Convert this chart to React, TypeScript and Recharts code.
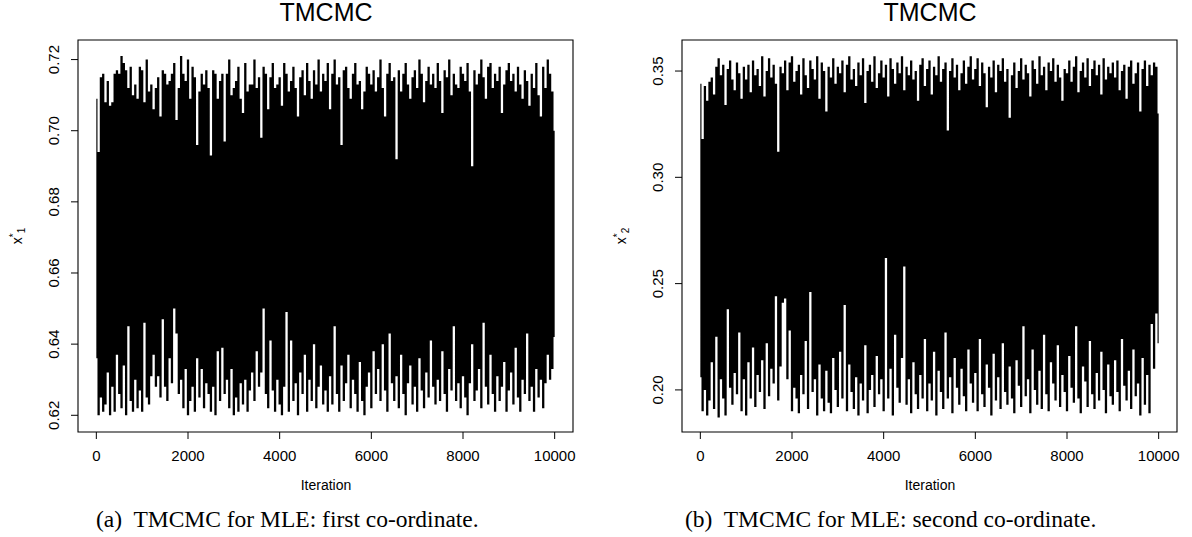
import React from 'react';
import { ComposedChart, Area, XAxis, YAxis, ReferenceArea } from 'recharts';

// trace summarised in bins of 50 iterations: max and min of each bin
const iterations = Array.from({ length: 201 }, (_, i) => i * 50);
const xTicks = [0, 2000, 4000, 6000, 8000, 10000];

const x1High = [
  0.709, 0.694, 0.715, 0.716, 0.708, 0.714, 0.707, 0.708, 0.716, 0.717, 0.716, 0.721, 0.719, 0.717, 0.712, 0.718, 0.710, 0.713, 0.709, 0.718,
  0.717, 0.708, 0.720, 0.711, 0.713, 0.706, 0.712, 0.715, 0.704, 0.717, 0.716, 0.713, 0.714, 0.716, 0.719, 0.703, 0.712, 0.721, 0.716, 0.714,
  0.720, 0.709, 0.718, 0.715, 0.696, 0.711, 0.716, 0.713, 0.717, 0.712, 0.693, 0.717, 0.716, 0.709, 0.714, 0.716, 0.697, 0.716, 0.720, 0.710,
  0.712, 0.714, 0.718, 0.709, 0.705, 0.719, 0.711, 0.713, 0.713, 0.720, 0.712, 0.715, 0.698, 0.718, 0.716, 0.706, 0.715, 0.719, 0.712, 0.713,
  0.715, 0.707, 0.719, 0.716, 0.711, 0.714, 0.718, 0.712, 0.704, 0.715, 0.717, 0.710, 0.719, 0.714, 0.709, 0.717, 0.713, 0.720, 0.711, 0.716,
  0.714, 0.719, 0.706, 0.716, 0.720, 0.713, 0.715, 0.696, 0.717, 0.718, 0.712, 0.709, 0.716, 0.719, 0.713, 0.714, 0.706, 0.711, 0.718, 0.716,
  0.713, 0.717, 0.711, 0.715, 0.720, 0.712, 0.704, 0.716, 0.719, 0.714, 0.715, 0.692, 0.717, 0.711, 0.716, 0.719, 0.713, 0.709, 0.715, 0.717,
  0.712, 0.720, 0.716, 0.708, 0.714, 0.718, 0.713, 0.716, 0.712, 0.719, 0.714, 0.705, 0.717, 0.715, 0.720, 0.710, 0.716, 0.713, 0.712, 0.718,
  0.716, 0.714, 0.719, 0.711, 0.690, 0.717, 0.713, 0.716, 0.720, 0.715, 0.709, 0.718, 0.719, 0.712, 0.716, 0.714, 0.718, 0.705, 0.713, 0.717,
  0.719, 0.714, 0.716, 0.711, 0.718, 0.713, 0.709, 0.717, 0.714, 0.707, 0.716, 0.712, 0.719, 0.710, 0.704, 0.718, 0.712, 0.720, 0.716, 0.711,
  0.700,
];

const x1Low = [
  0.636, 0.620, 0.625, 0.621, 0.623, 0.632, 0.620, 0.628, 0.621, 0.637, 0.626, 0.622, 0.634, 0.620, 0.645, 0.624, 0.621, 0.630, 0.622, 0.627,
  0.621, 0.646, 0.625, 0.623, 0.631, 0.637, 0.628, 0.631, 0.625, 0.647, 0.628, 0.624, 0.636, 0.629, 0.650, 0.643, 0.626, 0.630, 0.622, 0.633,
  0.620, 0.624, 0.628, 0.621, 0.636, 0.625, 0.633, 0.622, 0.629, 0.626, 0.621, 0.628, 0.620, 0.638, 0.624, 0.639, 0.626, 0.630, 0.622, 0.633,
  0.620, 0.625, 0.621, 0.629, 0.623, 0.630, 0.621, 0.627, 0.632, 0.624, 0.638, 0.628, 0.632, 0.650, 0.626, 0.622, 0.641, 0.627, 0.621, 0.630,
  0.623, 0.620, 0.628, 0.649, 0.621, 0.641, 0.624, 0.629, 0.620, 0.632, 0.626, 0.637, 0.621, 0.630, 0.624, 0.640, 0.622, 0.628, 0.634, 0.623,
  0.627, 0.621, 0.631, 0.623, 0.645, 0.626, 0.621, 0.634, 0.624, 0.629, 0.637, 0.622, 0.630, 0.626, 0.621, 0.635, 0.624, 0.620, 0.628, 0.632,
  0.622, 0.638, 0.626, 0.633, 0.624, 0.640, 0.627, 0.621, 0.643, 0.629, 0.624, 0.631, 0.622, 0.637, 0.626, 0.620, 0.629, 0.634, 0.623, 0.628,
  0.621, 0.636, 0.627, 0.622, 0.632, 0.625, 0.641, 0.628, 0.623, 0.630, 0.624, 0.638, 0.626, 0.621, 0.633, 0.627, 0.645, 0.624, 0.629, 0.622,
  0.631, 0.625, 0.620, 0.629, 0.640, 0.624, 0.627, 0.633, 0.622, 0.646, 0.628, 0.623, 0.637, 0.626, 0.621, 0.631, 0.624, 0.628, 0.635, 0.621,
  0.627, 0.632, 0.623, 0.639, 0.625, 0.621, 0.630, 0.626, 0.643, 0.624, 0.628, 0.621, 0.633, 0.625, 0.630, 0.622, 0.629, 0.637, 0.630, 0.633,
  0.642,
];

const x2High = [
  0.344, 0.318, 0.343, 0.336, 0.345, 0.347, 0.339, 0.352, 0.356, 0.348, 0.353, 0.334, 0.351, 0.355, 0.346, 0.341, 0.354, 0.349, 0.337, 0.352,
  0.346, 0.353, 0.340, 0.355, 0.348, 0.351, 0.343, 0.357, 0.338, 0.350, 0.356, 0.347, 0.353, 0.344, 0.312, 0.352, 0.349, 0.355, 0.341, 0.354,
  0.357, 0.345, 0.350, 0.353, 0.339, 0.356, 0.348, 0.342, 0.355, 0.351, 0.346, 0.357, 0.337, 0.354, 0.350, 0.331, 0.352, 0.347, 0.356, 0.344,
  0.352, 0.349, 0.355, 0.340, 0.353, 0.357, 0.346, 0.351, 0.343, 0.354, 0.348, 0.356, 0.335, 0.350, 0.353, 0.345, 0.357, 0.342, 0.349, 0.355,
  0.347, 0.353, 0.338, 0.356, 0.351, 0.344, 0.354, 0.349, 0.357, 0.341, 0.352, 0.348, 0.355, 0.346, 0.350, 0.336, 0.353, 0.356, 0.343, 0.351,
  0.355, 0.339, 0.352, 0.348, 0.357, 0.345, 0.351, 0.354, 0.322, 0.350, 0.356, 0.347, 0.353, 0.341, 0.349, 0.355, 0.344, 0.352, 0.357, 0.346,
  0.351, 0.356, 0.343, 0.354, 0.349, 0.333, 0.352, 0.347, 0.355, 0.340, 0.353, 0.350, 0.356, 0.345, 0.351, 0.328, 0.348, 0.354, 0.342, 0.350,
  0.356, 0.346, 0.353, 0.349, 0.338, 0.355, 0.351, 0.344, 0.357, 0.348, 0.352, 0.341, 0.354, 0.350, 0.356, 0.345, 0.353, 0.347, 0.336, 0.351,
  0.349, 0.355, 0.345, 0.352, 0.357, 0.340, 0.350, 0.354, 0.347, 0.356, 0.343, 0.351, 0.355, 0.348, 0.353, 0.339, 0.356, 0.346, 0.352, 0.349,
  0.354, 0.347, 0.355, 0.341, 0.350, 0.353, 0.337, 0.352, 0.355, 0.344, 0.349, 0.354, 0.331, 0.351, 0.355, 0.343, 0.353, 0.348, 0.354, 0.352,
  0.330,
];

const x2Low = [
  0.206, 0.190, 0.200, 0.188, 0.195, 0.213, 0.191, 0.225, 0.187, 0.205, 0.196, 0.188, 0.238, 0.201, 0.193, 0.208, 0.198, 0.227, 0.190, 0.205,
  0.188, 0.213, 0.196, 0.220, 0.192, 0.207, 0.199, 0.214, 0.191, 0.222, 0.197, 0.210, 0.203, 0.244, 0.195, 0.211, 0.241, 0.243, 0.205, 0.228,
  0.190, 0.201, 0.196, 0.189, 0.207, 0.198, 0.223, 0.191, 0.246, 0.199, 0.205, 0.188, 0.212, 0.196, 0.190, 0.209, 0.194, 0.189, 0.215, 0.200,
  0.192, 0.218, 0.196, 0.240, 0.190, 0.212, 0.199, 0.191, 0.206, 0.188, 0.203, 0.195, 0.221, 0.189, 0.200, 0.207, 0.192, 0.216, 0.198, 0.205,
  0.190, 0.262, 0.196, 0.210, 0.188, 0.226, 0.201, 0.194, 0.215, 0.258, 0.193, 0.205, 0.189, 0.213, 0.198, 0.191, 0.207, 0.196, 0.224, 0.190,
  0.203, 0.195, 0.218, 0.188, 0.209, 0.199, 0.191, 0.227, 0.196, 0.206, 0.189, 0.215, 0.201, 0.193, 0.210, 0.197, 0.190, 0.219, 0.203, 0.194,
  0.208, 0.190, 0.224, 0.198, 0.192, 0.212, 0.201, 0.188, 0.217, 0.195, 0.206, 0.191, 0.222, 0.199, 0.193, 0.211, 0.196, 0.189, 0.214, 0.202,
  0.192, 0.230, 0.197, 0.205, 0.189, 0.219, 0.200, 0.193, 0.209, 0.191, 0.226, 0.198, 0.190, 0.213, 0.203, 0.195, 0.221, 0.192, 0.207, 0.199,
  0.190, 0.216, 0.201, 0.194, 0.230, 0.196, 0.189, 0.211, 0.204, 0.192, 0.223, 0.198, 0.191, 0.208, 0.195, 0.218, 0.200, 0.189, 0.212, 0.197,
  0.193, 0.214, 0.199, 0.190, 0.224, 0.202, 0.195, 0.209, 0.191, 0.219, 0.197, 0.203, 0.188, 0.215, 0.193, 0.207, 0.189, 0.231, 0.210, 0.236,
  0.222,
];

const x1Ticks = [0.62, 0.64, 0.66, 0.68, 0.7, 0.72];
const x2Ticks = [0.2, 0.25, 0.3, 0.35];

const SANS = '"Liberation Sans", Arial, Helvetica, sans-serif';
const SERIF = '"Liberation Serif", "Times New Roman", serif';

const RotatedTick = (props: any) => {
  const { x, y, payload } = props;
  const bx = x - 10;
  return (
    <text
      x={bx}
      y={y}
      transform={`rotate(-90 ${bx} ${y})`}
      textAnchor="middle"
      fontSize={15}
      fontFamily={SANS}
      fill="#000"
    >
      {Number(payload.value).toFixed(2)}
    </text>
  );
};

interface TraceProps {
  low: number[];
  high: number[];
  yDomain: [number, number];
  yTicks: number[];
  yAxisWidth: number;
  rightMargin: number;
}

const TracePlot = ({ low, high, yDomain, yTicks, yAxisWidth, rightMargin }: TraceProps) => {
  const data = iterations.map((it, i) => ({ it, band: [low[i], high[i]] }));
  return (
    <ComposedChart
      width={596}
      height={537}
      data={data}
      margin={{ top: 40, right: rightMargin, bottom: 75, left: 0 }}
    >
      <XAxis
        dataKey="it"
        type="number"
        domain={[-400, 10400]}
        ticks={xTicks}
        interval={0}
        allowDataOverflow
        axisLine={false}
        tickLine={{ stroke: '#000' }}
        tickSize={7}
        tickMargin={11}
        height={30}
        tick={{ fill: '#000', fontSize: 15, fontFamily: SANS }}
      />
      <YAxis
        type="number"
        domain={yDomain}
        ticks={yTicks}
        interval={0}
        allowDataOverflow
        width={yAxisWidth}
        axisLine={false}
        tickLine={{ stroke: '#000' }}
        tickSize={7}
        tick={RotatedTick}
      />
      <Area
        dataKey="band"
        type="step"
        fill="#000"
        fillOpacity={1}
        stroke="none"
        isAnimationActive={false}
      />
      <ReferenceArea
        x1={-400}
        x2={10400}
        y1={yDomain[0]}
        y2={yDomain[1]}
        fill="none"
        stroke="#000"
        strokeWidth={1.1}
        ifOverflow="visible"
      />
    </ComposedChart>
  );
};

const YLabel = ({ x, sub }: { x: number; sub: string }) => (
  <text transform={`translate(${x},236) rotate(-90)`} textAnchor="middle" fontSize={14} fontFamily={SANS} fill="#000">
    x
    <tspan dy={-5} fontSize={10}>*</tspan>
    <tspan dy={8} fontSize={10}>{sub}</tspan>
  </text>
);

export default function App() {
  return (
    <div style={{ position: 'absolute', left: 0, top: 0, width: 1192, height: 537, background: '#fff' }}>
      <div style={{ position: 'absolute', left: 0, top: 0 }}>
        <TracePlot low={x1Low} high={x1High} yDomain={[0.6153, 0.7255]} yTicks={x1Ticks} yAxisWidth={78} rightMargin={23} />
      </div>
      <div style={{ position: 'absolute', left: 596, top: 0 }}>
        <TracePlot low={x2Low} high={x2High} yDomain={[0.1802, 0.3646]} yTicks={x2Ticks} yAxisWidth={86} rightMargin={15} />
      </div>
      <svg width={1192} height={537} style={{ position: 'absolute', left: 0, top: 0, pointerEvents: 'none' }}>
        <text x={326} y={21} textAnchor="middle" fontSize={25} fontFamily={SANS} fill="#000">TMCMC</text>
        <text x={930} y={21} textAnchor="middle" fontSize={25} fontFamily={SANS} fill="#000">TMCMC</text>
        <YLabel x={22} sub="1" />
        <YLabel x={626} sub="2" />
        <text x={326} y={490} textAnchor="middle" fontSize={14} fontFamily={SANS} fill="#000">Iteration</text>
        <text x={930} y={490} textAnchor="middle" fontSize={14} fontFamily={SANS} fill="#000">Iteration</text>
        <text x={96} y={527} fontSize={23.5} fontFamily={SERIF} fill="#000" xmlSpace="preserve">(a)  TMCMC for MLE: first co-ordinate.</text>
        <text x={685} y={527} fontSize={23.5} fontFamily={SERIF} fill="#000" xmlSpace="preserve">(b)  TMCMC for MLE: second co-ordinate.</text>
      </svg>
    </div>
  );
}
